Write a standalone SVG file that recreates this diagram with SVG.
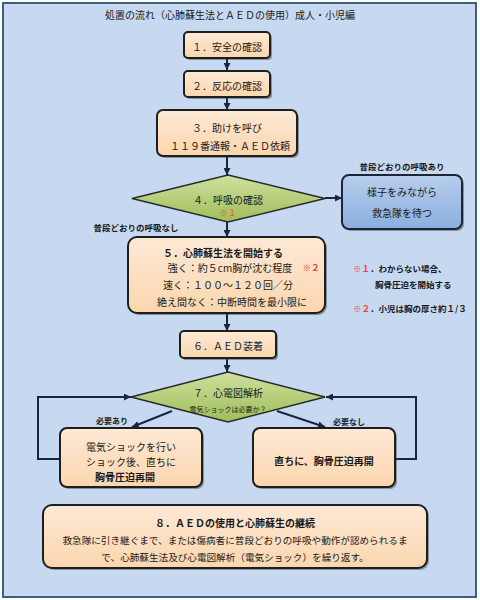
<svg xmlns="http://www.w3.org/2000/svg" width="480" height="600" viewBox="0 0 480 600">
<style>
text{font-family:"Noto Sans CJK JP","Noto Sans CJK SC",sans-serif;fill:#1a1a1a;text-anchor:middle;dominant-baseline:central}
.t{font-size:10px}
.b{font-weight:bold}
.s{font-size:8.5px;font-weight:bold}
.red{fill:#e8413a}
.box{fill:url(#peach);stroke:#1e1e1e;stroke-width:2}
.dia{fill:url(#green);stroke:#2a2a2a;stroke-width:1.5}
.blue{fill:url(#blu);stroke:#1e2433;stroke-width:2}
.sh{fill:#3a3a3a;opacity:.45}
.c{fill:none;stroke:#1a2540;stroke-width:2}
</style>
<defs>
<linearGradient id="peach" x1="0" y1="0" x2="0" y2="1"><stop offset="0" stop-color="#fde9d6"/><stop offset="1" stop-color="#fbd6ae"/></linearGradient>
<linearGradient id="green" x1="0" y1="0" x2="0" y2="1"><stop offset="0" stop-color="#cfe09e"/><stop offset="1" stop-color="#9ebd5a"/></linearGradient>
<linearGradient id="blu" x1="0" y1="0" x2="0" y2="1"><stop offset="0" stop-color="#b7cdec"/><stop offset="1" stop-color="#8aafe0"/></linearGradient>
<marker id="ah" viewBox="0 0 10 10" refX="10" refY="5" markerWidth="7" markerHeight="7" markerUnits="userSpaceOnUse" orient="auto"><path d="M0,0L10,5L0,10z" fill="#1a2540"/></marker>
</defs>
<rect x="3" y="3" width="473" height="594" fill="#c6d9f1" stroke="#3f5f80" stroke-width="2"/>
<text x="230" y="14" class="t">処置の流れ（心肺蘇生法とＡＥＤの使用）成人・小児編</text>

<g id="connectors">
<path class="c" d="M227,58V70" marker-end="url(#ah)"/>
<path class="c" d="M227,97V110" marker-end="url(#ah)"/>
<path class="c" d="M227,156V175" marker-end="url(#ah)"/>
<path class="c" d="M325,198H342" marker-end="url(#ah)"/>
<path class="c" d="M227,222V237" marker-end="url(#ah)"/>
<path class="c" d="M227,313V331" marker-end="url(#ah)"/>
<path class="c" d="M227,358V372" marker-end="url(#ah)"/>
<path class="c" d="M172,411L132,427" marker-end="url(#ah)"/>
<path class="c" d="M277,411L325,427" marker-end="url(#ah)"/>
<path class="c" d="M60,459H38V397H131" marker-end="url(#ah)"/>
<path class="c" d="M395,459H416V397H326" marker-end="url(#ah)"/>
</g>

<g id="n1">
<rect class="sh" x="186" y="34" width="86" height="26" rx="4"/>
<rect class="box" x="184" y="32" width="86" height="26" rx="4"/>
<text x="227" y="46" class="t">１．安全の確認</text>
</g>
<g id="n2">
<rect class="sh" x="186" y="73" width="86" height="26" rx="4"/>
<rect class="box" x="184" y="71" width="86" height="26" rx="4"/>
<text x="227" y="85" class="t">２．反応の確認</text>
</g>
<g id="n3">
<rect class="sh" x="159" y="112" width="140" height="46" rx="6"/>
<rect class="box" x="157" y="110" width="140" height="46" rx="6"/>
<text x="227" y="127" class="t">３．助けを呼び</text>
<text x="230" y="145" class="t">１１９番通報・ＡＥＤ依頼</text>
</g>
<g id="n4">
<polygon class="dia" points="228,175 325,198.5 228,222 132,198.5"/>
<text x="228" y="199" class="t">４．呼吸の確認</text>
<text x="228" y="212" style="font-size:8.5px;fill:#e0621e">※１</text>
</g>
<text x="402" y="166" class="s">普段どおりの呼吸あり</text>
<text x="136" y="227" class="s">普段どおりの呼吸なし</text>
<g id="nb">
<rect class="sh" x="344" y="177" width="120" height="54" rx="7"/>
<rect class="blue" x="342" y="175" width="120" height="54" rx="7"/>
<text x="402" y="191" class="t">様子をみながら</text>
<text x="402" y="212" class="t">救急隊を待つ</text>
</g>
<g id="n5">
<rect class="sh" x="130" y="239" width="197" height="76" rx="9"/>
<rect class="box" x="128" y="237" width="197" height="76" rx="9"/>
<text x="223" y="252" class="t b">５．心肺蘇生法を開始する</text>
<text x="230" y="267" class="t">強く：約５cm胸が沈む程度</text>
<text x="311" y="267" style="font-size:8.5px;font-weight:bold" class="red">※２</text>
<text x="228" y="284" class="t">速く：１００～１２０回／分</text>
<text x="232" y="301" class="t">絶え間なく：中断時間を最小限に</text>
</g>
<text x="353" y="268" class="s" style="text-anchor:start"><tspan class="red">※１</tspan>．わからない場合、</text>
<text x="375" y="284" class="s" style="text-anchor:start">胸骨圧迫を開始する</text>
<text x="353" y="308" class="s" style="text-anchor:start"><tspan class="red">※２</tspan>．小児は胸の厚さ約１/３</text>
<g id="n6">
<rect class="sh" x="182" y="333" width="96" height="27" rx="4"/>
<rect class="box" x="180" y="331" width="96" height="27" rx="4"/>
<text x="228" y="345" class="t">６．ＡＥＤ装着</text>
</g>
<g id="n7">
<polygon class="dia" points="228,372 325,397 228,422 131,397"/>
<text x="228" y="392" class="t">７．心電図解析</text>
<text x="228" y="409" style="font-size:7px">電気ショックは必要か？</text>
</g>
<text x="112" y="420" class="s" style="font-size:8px">必要あり</text>
<text x="349" y="421" class="s" style="font-size:8px">必要なし</text>
<g id="n7a">
<rect class="sh" x="62" y="430" width="142" height="59" rx="7"/>
<rect class="box" x="60" y="428" width="142" height="59" rx="7"/>
<text x="131" y="446" class="t">電気ショックを行い</text>
<text x="131" y="461" class="t">ショック後、直ちに</text>
<text x="125" y="476" class="t b">胸骨圧迫再開</text>
</g>
<g id="n7b">
<rect class="sh" x="255" y="430" width="142" height="59" rx="7"/>
<rect class="box" x="253" y="428" width="142" height="59" rx="7"/>
<text x="324" y="460" class="t b">直ちに、胸骨圧迫再開</text>
</g>
<g id="n8">
<rect class="sh" x="45" y="507" width="384" height="63" rx="9"/>
<rect class="box" x="43" y="505" width="384" height="63" rx="9"/>
<text x="235" y="522" class="t b">８．ＡＥＤの使用と心肺蘇生の継続</text>
<text x="235" y="540" style="font-size:9.6px">救急隊に引き継ぐまで、または傷病者に普段どおりの呼吸や動作が認められるま</text>
<text x="235" y="557" style="font-size:9.6px">で、心肺蘇生法及び心電図解析（電気ショック）を繰り返す。</text>
</g>
</svg>
